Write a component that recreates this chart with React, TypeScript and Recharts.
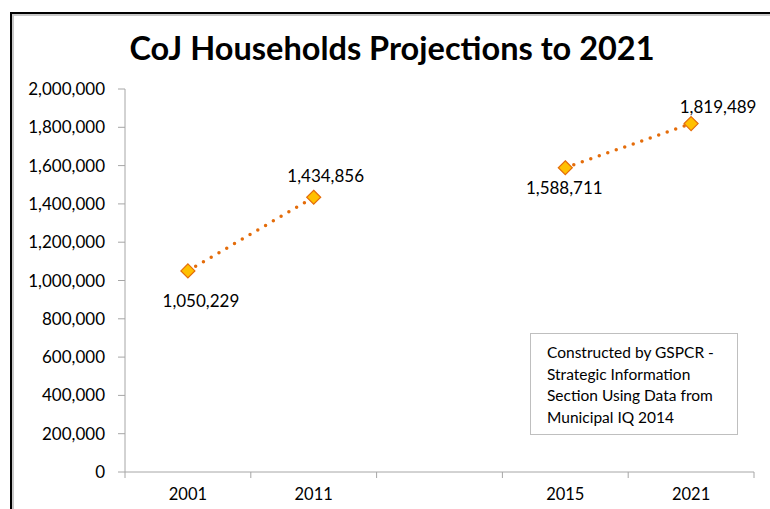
import React from "react";
import { LineChart, Line, XAxis, YAxis, LabelList } from "recharts";

// Household counts for the City of Johannesburg, with a gap between the census and projection periods
const categories = ["2001", "2011", "", "2015", "2021"];
const households: (number | null)[] = [1050229, 1434856, null, 1588711, 1819489];
const yTicks = [0, 200000, 400000, 600000, 800000, 1000000, 1200000, 1400000, 1600000, 1800000, 2000000];

const chartData = categories.map((year, i) => ({
  pos: i + 0.5,
  year,
  households: households[i],
}));

// positions along the x scale: boundaries get tick marks, centres get year labels
const xTicks = [0, 0.5, 1, 1.5, 2, 2.5, 3, 3.5, 4, 4.5, 5];

// where each value label sits relative to its marker (dx, dy)
const labelShift: Record<number, [number, number]> = {
  0: [13, 30],
  1: [12, -22],
  3: [-1, 20],
  4: [27, -17],
};

const FONT = "Lato, 'Open Sans', sans-serif";
const AXIS_GREY = "#A6A6A6";
const LINE_ORANGE = "#E46C0A";
const MARKER_GOLD = "#FFC000";

const fmt = (v: number) => v.toLocaleString("en-US");

function XTick(props: any) {
  const { x, y, payload } = props;
  const v = payload.value as number;
  if (Number.isInteger(v)) {
    return <line x1={x} x2={x} y1={y} y2={y + 6} stroke={AXIS_GREY} strokeWidth={1} />;
  }
  const label = categories[Math.floor(v)] ?? "";
  return (
    <text x={x} y={y + 28} textAnchor="middle" fontFamily={FONT} fontSize={16.5} fill="#000">
      {label}
    </text>
  );
}

function Diamond(props: any) {
  const { cx, cy, value } = props;
  if (value == null || cx == null || cy == null) return null;
  const r = 7;
  return (
    <polygon
      points={`${cx},${cy - r} ${cx + r},${cy} ${cx},${cy + r} ${cx - r},${cy}`}
      fill={MARKER_GOLD}
      stroke={LINE_ORANGE}
      strokeWidth={1.2}
    />
  );
}

function ValueLabel(props: any) {
  const { x, y, value, index } = props;
  if (value == null) return null;
  const shift = labelShift[index] ?? [0, -16];
  return (
    <text
      x={x + shift[0]}
      y={y + shift[1]}
      textAnchor="middle"
      dominantBaseline="central"
      fontFamily={FONT}
      fontSize={17}
      fill="#000"
    >
      {fmt(value)}
    </text>
  );
}

export default function App() {
  return (
    <div
      style={{
        position: "absolute",
        left: 0,
        top: 0,
        width: 770,
        height: 509,
        overflow: "hidden",
        background: "#fff",
      }}
    >
      <LineChart
        width={770}
        height={509}
        data={chartData}
        margin={{ top: 89, right: 16, bottom: 0, left: 0 }}
      >
        <XAxis
          dataKey="pos"
          type="number"
          domain={[0, 5]}
          ticks={xTicks}
          interval={0}
          tick={<XTick />}
          tickLine={false}
          tickSize={0}
          tickMargin={0}
          axisLine={{ stroke: AXIS_GREY, strokeWidth: 1 }}
          height={37}
        />
        <YAxis
          type="number"
          domain={[0, 2000000]}
          ticks={yTicks}
          interval={0}
          tickFormatter={fmt}
          width={125}
          tickSize={7}
          tickMargin={13}
          tickLine={{ stroke: AXIS_GREY }}
          axisLine={{ stroke: AXIS_GREY, strokeWidth: 1 }}
          tick={{ fontFamily: FONT, fontSize: 17, fill: "#000" }}
        />
        <Line
          dataKey="households"
          type="linear"
          stroke={LINE_ORANGE}
          strokeWidth={3.5}
          strokeDasharray="0 9"
          strokeLinecap="round"
          connectNulls={false}
          dot={<Diamond />}
          activeDot={false}
          isAnimationActive={false}
        >
          <LabelList dataKey="households" content={<ValueLabel />} />
        </Line>
      </LineChart>

      {/* chart frame: top and left edges are the ones inside the canvas */}
      <div
        style={{
          position: "absolute",
          left: 10,
          top: 12,
          width: 760,
          height: 497,
          boxSizing: "border-box",
          borderTop: "2px solid #000",
          borderLeft: "2px solid #000",
          pointerEvents: "none",
        }}
      />
      <div
        style={{
          position: "absolute",
          left: 12,
          top: 14,
          width: 758,
          height: 495,
          boxSizing: "border-box",
          borderTop: "2px solid #C8C8C8",
          borderLeft: "2px solid #C8C8C8",
          pointerEvents: "none",
        }}
      />

      <div
        style={{
          position: "absolute",
          left: 0,
          width: 784,
          top: 28,
          textAlign: "center",
          fontFamily: FONT,
          fontWeight: 700,
          fontSize: 32.5,
          lineHeight: "40px",
          color: "#000",
        }}
      >
        CoJ Households Projections to 2021
      </div>

      <div
        style={{
          position: "absolute",
          left: 530,
          top: 333,
          width: 208,
          height: 102,
          boxSizing: "border-box",
          border: "1px solid #BFBFBF",
          background: "#fff",
          padding: "8px 0 0 16px",
          fontFamily: FONT,
          fontSize: 15.5,
          lineHeight: "21.7px",
          color: "#000",
        }}
      >
        <div>Constructed by GSPCR -</div>
        <div>Strategic Information</div>
        <div>Section Using Data from</div>
        <div>Municipal IQ 2014</div>
      </div>
    </div>
  );
}
